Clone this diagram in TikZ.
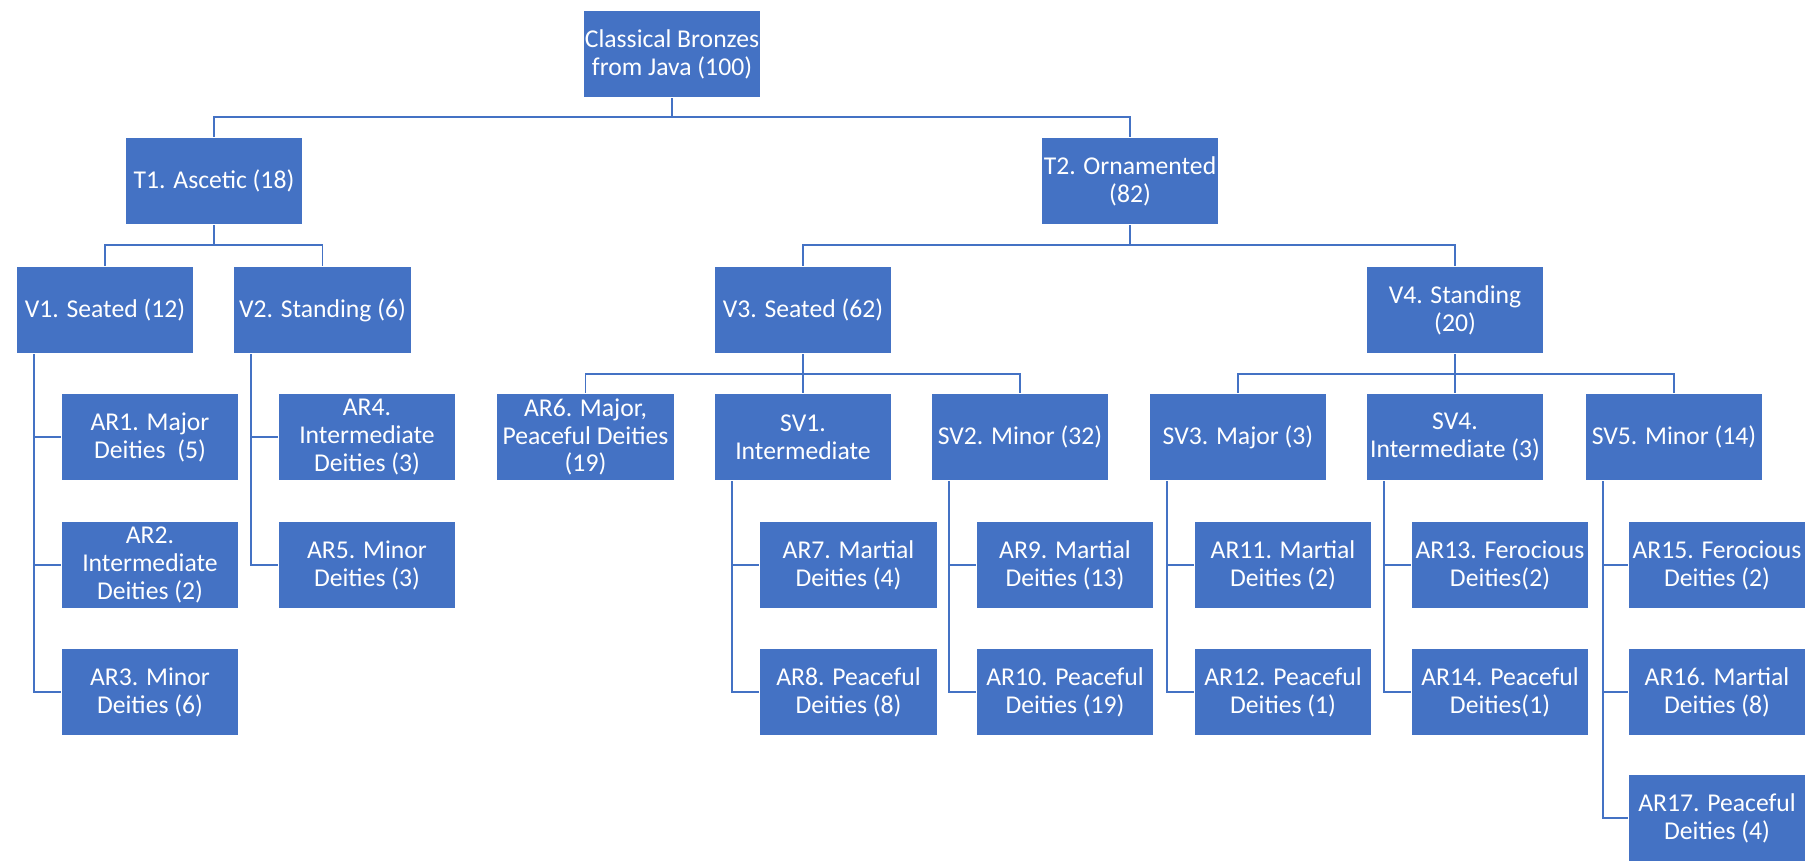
\documentclass[tikz,border=0pt]{standalone}
\usepackage{fontspec}
\setmainfont{Carlito}
\usetikzlibrary{backgrounds}
\definecolor{officeblue}{HTML}{4472C4}

\begin{document}
\begin{tikzpicture}[x=0.02cm, y=-0.02cm,
		box/.style={fill=officeblue, draw=white, line width=0.5pt, text=white, align=center,
			minimum width=3.55cm, minimum height=1.74cm, inner sep=0pt,
			font=\fontsize{14.6}{15.9}\selectfont},
		link/.style={draw=officeblue, line width=1.1pt}]
			%%%%% START %%%%%
			\useasboundingbox (0, 0) rectangle (1809, 861);
			
			\node[box] (root) at (672, 54) {Classical Bronzes\\from Java (100)};
			
			\node[box] (t1) at (214, 181) {T1. Ascetic (18)};
			\node[box] (t2) at (1130, 181) {T2. Ornamented\\(82)};
			
			\node[box] (v1) at (105, 310) {V1. Seated (12)};
			\node[box] (v2) at (322.5, 310) {V2. Standing (6)};
			\node[box] (v3) at (803, 310) {V3. Seated (62)};
			\node[box] (v4) at (1455, 310) {V4. Standing\\(20)};
			
			\node[box] (ar1) at (150, 437) {AR1. Major\\Deities~ (5)};
			\node[box] (ar4) at (367, 437) {AR4.\\Intermediate\\Deities (3)};
			\node[box] (ar6) at (585.5, 437) {AR6. Major,\\Peaceful Deities\\(19)};
			\node[box] (sv1) at (803, 437) {SV1.\\Intermediate};
			\node[box] (sv2) at (1020, 437) {SV2. Minor (32)};
			\node[box] (sv3) at (1238, 437) {SV3. Major (3)};
			\node[box] (sv4) at (1455, 437) {SV4.\\Intermediate (3)};
			\node[box] (sv5) at (1674, 437) {SV5. Minor (14)};
			
			\node[box] (ar2) at (150, 565) {AR2.\\Intermediate\\Deities (2)};
			\node[box] (ar5) at (367, 565) {AR5. Minor\\Deities (3)};
			\node[box] (ar7) at (848.5, 565) {AR7. Martial\\Deities (4)};
			\node[box] (ar9) at (1065, 565) {AR9. Martial\\Deities (13)};
			\node[box] (ar11) at (1283, 565) {AR11. Martial\\Deities (2)};
			\node[box] (ar13) at (1500, 565) {AR13. Ferocious\\Deities(2)};
			\node[box] (ar15) at (1717, 565) {AR15. Ferocious\\Deities (2)};
			
			\node[box] (ar3) at (150, 692) {AR3. Minor\\Deities (6)};
			\node[box] (ar8) at (848.5, 692) {AR8. Peaceful\\Deities (8)};
			\node[box] (ar10) at (1065, 692) {AR10. Peaceful\\Deities (19)};
			\node[box] (ar12) at (1283, 692) {AR12. Peaceful\\Deities (1)};
			\node[box] (ar14) at (1500, 692) {AR14. Peaceful\\Deities(1)};
			\node[box] (ar16) at (1717, 692) {AR16. Martial\\Deities (8)};
			
			\node[box] (ar17) at (1717, 818) {AR17. Peaceful\\Deities (4)};
			
			\begin{pgfonlayer}{background}
			\draw[link] (root.south) -- ++(0, 19) -| (t1.north);
			\draw[link] (root.south) -- ++(0, 19) -| (t2.north);
			
			\draw[link] (t1.south) -- ++(0, 20) -| (v1.north);
			\draw[link] (t1.south) -- ++(0, 20) -| (v2.north);
			\draw[link] (t2.south) -- ++(0, 20) -| (v3.north);
			\draw[link] (t2.south) -- ++(0, 20) -| (v4.north);
			
			\draw[link] (v3.south) -- ++(0, 20) -| (ar6.north);
			\draw[link] (v3.south) -- ++(0, 20) -| (sv1.north);
			\draw[link] (v3.south) -- ++(0, 20) -| (sv2.north);
			\draw[link] (v4.south) -- ++(0, 20) -| (sv3.north);
			\draw[link] (v4.south) -- ++(0, 20) -| (sv4.north);
			\draw[link] (v4.south) -- ++(0, 20) -| (sv5.north);
			
			\draw[link] ([xshift=0.36cm]v1.south west) |- (ar1.west);
			\draw[link] ([xshift=0.36cm]v1.south west) |- (ar2.west);
			\draw[link] ([xshift=0.36cm]v1.south west) |- (ar3.west);
			\draw[link] ([xshift=0.36cm]v2.south west) |- (ar4.west);
			\draw[link] ([xshift=0.36cm]v2.south west) |- (ar5.west);
			
			\draw[link] ([xshift=0.36cm]sv1.south west) |- (ar7.west);
			\draw[link] ([xshift=0.36cm]sv1.south west) |- (ar8.west);
			\draw[link] ([xshift=0.36cm]sv2.south west) |- (ar9.west);
			\draw[link] ([xshift=0.36cm]sv2.south west) |- (ar10.west);
			\draw[link] ([xshift=0.36cm]sv3.south west) |- (ar11.west);
			\draw[link] ([xshift=0.36cm]sv3.south west) |- (ar12.west);
			\draw[link] ([xshift=0.36cm]sv4.south west) |- (ar13.west);
			\draw[link] ([xshift=0.36cm]sv4.south west) |- (ar14.west);
			\draw[link] ([xshift=0.36cm]sv5.south west) |- (ar15.west);
			\draw[link] ([xshift=0.36cm]sv5.south west) |- (ar16.west);
			\draw[link] ([xshift=0.36cm]sv5.south west) |- (ar17.west);
			\end{pgfonlayer}
			
			%%%%% END %%%%%
\end{tikzpicture}
\end{document}
